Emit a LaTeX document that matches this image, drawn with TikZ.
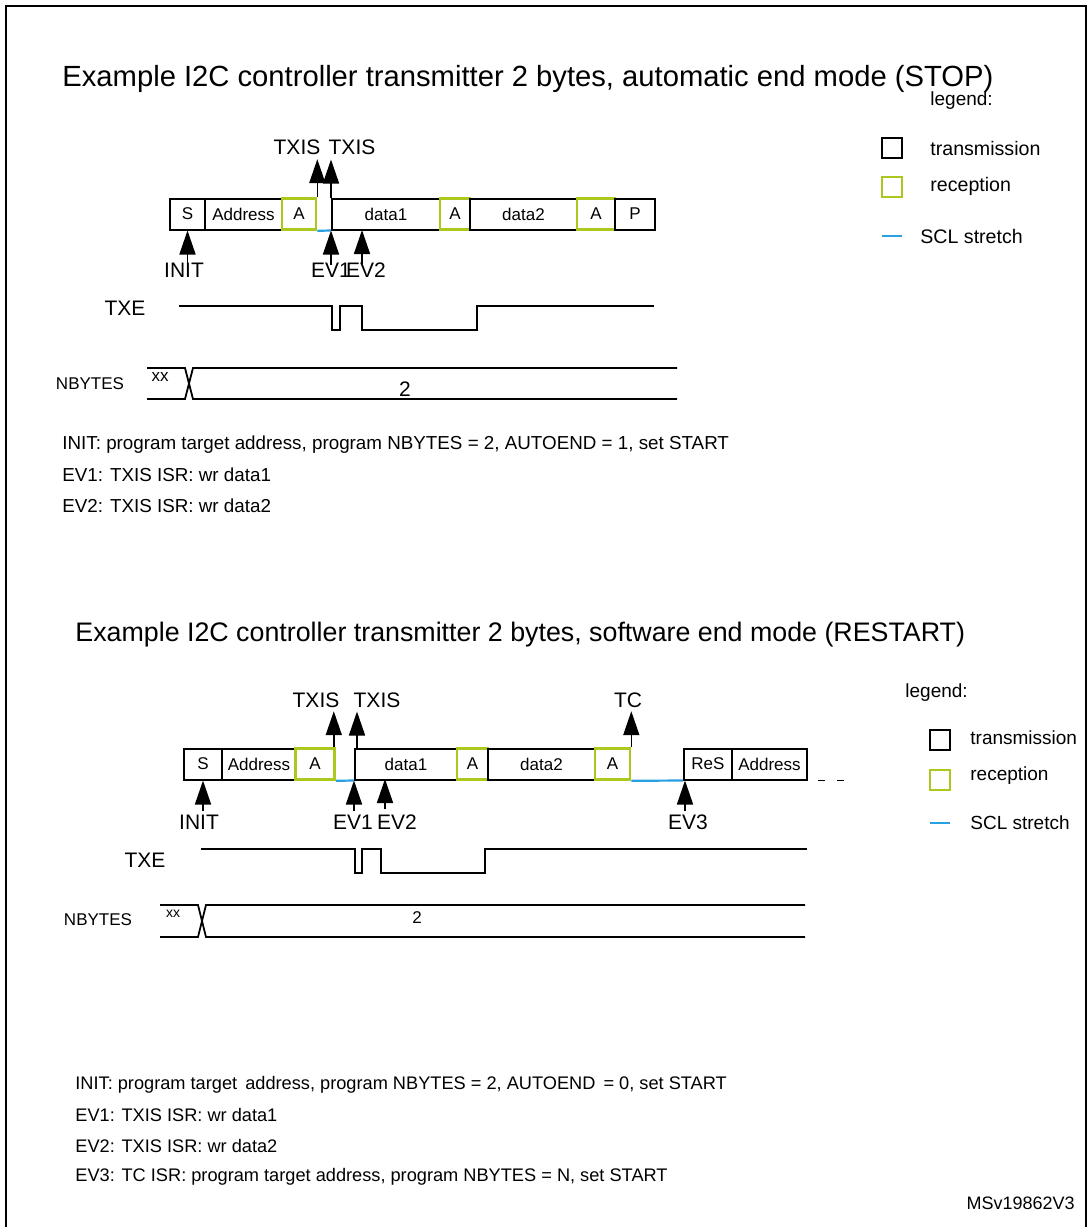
\documentclass[tikz,border=0pt]{standalone}
\usepackage{fontspec}
\setmainfont{Liberation Sans}
\usetikzlibrary{arrows.meta}
\usetikzlibrary{positioning}
\definecolor{rxgreen}{RGB}{170,200,30}
\definecolor{sclblue}{RGB}{40,160,225}
\tikzset{
    field/.style = {rectangle, draw=black, line width=1pt, minimum height=15.5pt, inner sep=0pt, font=\fontsize{8.5}{9}\selectfont},
    rxfield/.style = {field, draw=rxgreen, line width=1.3pt},
    flag/.style = {font=\fontsize{10.5}{11}\selectfont, inner sep=1pt},
    evarrow/.style = {-{Triangle[length=12pt,width=8pt]}, line width=0.8pt},
    wave/.style = {line width=0.9pt},
    stretch/.style = {sclblue, line width=1.1pt},
    note/.style = {font=\fontsize{9.1}{10}\selectfont, anchor=west, inner sep=0pt},
    legtext/.style = {font=\fontsize{9.5}{10}\selectfont, anchor=west, inner sep=0pt},
    legbox/.style = {rectangle, draw=black, line width=0.9pt, minimum size=10pt, inner sep=0pt},
}
\begin{document}
\begin{tikzpicture}[x=0.5pt,y=-0.5pt]
\useasboundingbox (0,0) rectangle (1089,1227);
\draw[line width=1pt] (1086,1240) -- (1086,6) -- (6,6) -- (6,1240);
%
% first example
\node[anchor=west, font=\fontsize{14.6}{16}\selectfont, inner sep=0pt] (title1) at (62,79) {Example I2C controller transmitter 2 bytes, automatic end mode (STOP)};
\node[field, minimum width=17.5pt] (s1) at (187.5,214) {S};
\node[field, minimum width=38.5pt] (ad1) at (243.5,214) {Address};
\node[rxfield, minimum width=17pt] (a11) at (299,214) {A};
\node[field, minimum width=54pt] (d11) at (386,214) {data1};
\node[rxfield, minimum width=15pt] (a12) at (455,214) {A};
\node[field, minimum width=53.5pt] (d12) at (523.5,214) {data2};
\node[rxfield, minimum width=19pt] (a13) at (596,214) {A};
\node[field, minimum width=20pt] (p1) at (635,214) {P};
\draw[stretch] (a11.south east) -- (d11.south west);
%
\node[flag] (txisa1) at (297,147) {TXIS};
\node[flag] (txisb1) at (352,147) {TXIS};
\draw[evarrow] (a11.north east) -- ++(0,-38);
\draw[evarrow] (d11.north west) -- ++(0,-38);
\node[flag] (init1) at (184,270) {INIT};
\node[flag] (ev11) at (331,270) {EV1};
\node[flag] (ev21) at (366,270) {EV2};
\draw[evarrow] (s1.south) ++(0,34) -- (s1.south);
\draw[evarrow] (d11.south west) ++(0,34) -- (d11.south west);
\draw[evarrow] (362,264) -- (362,230);
%
\node[flag] (txe1) at (125,308) {TXE};
\draw[wave] (179,306) -- (332,306) -- (332,330) -- (340,330) -- (340,306) -- (362,306)
    -- (362,330) -- (477,330) -- (477,306) -- (654,306);
\node[font=\fontsize{8.5}{9}\selectfont] (nb1) at (90,384) {NBYTES};
\draw[wave] (147,368) -- (185,368) -- (193,399) -- (677,399);
\draw[wave] (147,399) -- (185,399) -- (193,368) -- (677,368);
\node[font=\fontsize{8.5}{9}\selectfont] (xx1) at (160,377) {xx};
\node[font=\fontsize{10.5}{11}\selectfont] (two1) at (405,389) {2};
%
\node[note, font=\fontsize{9.4}{10}\selectfont] (n11) at (62,445) {INIT: program target address, program NBYTES = 2, AUTOEND = 1, set START};
\node[note, font=\fontsize{9.4}{10}\selectfont] (n12) at (62,475) {EV1: TXIS ISR: wr data1};
\node[note, font=\fontsize{9.4}{10}\selectfont] (n13) at (62,506) {EV2: TXIS ISR: wr data2};
%
\node[legtext] (leg1) at (930,101) {legend:};
\node[legbox] (lt1) at (892,148) {};
\node[legbox, draw=rxgreen, line width=1.3pt] (lr1) at (892,187) {};
\node[legtext, font=\fontsize{9.8}{10}\selectfont] at (930,148) {transmission};
\node[legtext, font=\fontsize{9.8}{10}\selectfont] at (930,186) {reception};
\coordinate (ls1) at (882,236);
\draw[stretch] (ls1) -- ++(20,0);
\node[legtext, font=\fontsize{9.8}{10}\selectfont] at (920,236) {SCL stretch};
%
% second example
\node[anchor=west, font=\fontsize{13.4}{16}\selectfont, inner sep=0pt] (title2) at (75,635) {Example I2C controller transmitter 2 bytes, software end mode (RESTART)};
\node[field, minimum width=19pt] (s2) at (203,764) {S};
\node[field, minimum width=37pt] (ad2) at (259,764) {Address};
\node[rxfield, minimum width=19.5pt] (a21) at (315,764) {A};
\node[field, minimum width=51pt] (d21) at (406,764) {data1};
\node[rxfield, minimum width=15.5pt] (a22) at (472.5,764) {A};
\node[field, minimum width=53.5pt] (d22) at (541.5,764) {data2};
\node[rxfield, minimum width=17.5pt] (a23) at (612.5,764) {A};
\node[field, minimum width=24pt] (res2) at (708,764) {ReS};
\node[field, minimum width=37.5pt] (ad22) at (769.5,764) {Address};
\draw[stretch] (a21.south east) -- (d21.south west);
\draw[stretch] (a23.south east) -- (res2.south west);
\draw[wave, dash pattern=on 3.5pt off 6pt] (ad22.south east) ++(10,0) -- ++(32,0);
%
\node[flag] (txisa2) at (316,700) {TXIS};
\node[flag] (txisb2) at (377,700) {TXIS};
\node[flag] (tc2) at (628,700) {TC};
\draw[evarrow] (a21.north east) ++(-2,0) -- ++(0,-36);
\draw[evarrow] (d21.north west) ++(3,0) -- ++(0,-36);
\draw[evarrow] (a23.north east) -- ++(0,-36);
\node[flag] (init2) at (199,822) {INIT};
\node[flag] (ev12) at (353,822) {EV1};
\node[flag] (ev22) at (397,822) {EV2};
\node[flag] (ev32) at (688,822) {EV3};
\draw[evarrow] (s2.south) ++(0,30) -- (s2.south);
\draw[evarrow] (d21.south west) ++(0,30) -- (d21.south west);
\draw[evarrow] (385,809) -- (385,779);
\draw[evarrow] (res2.south west) ++(2,30) -- ++(0,-30);
%
\node[flag] (txe2) at (145,860) {TXE};
\draw[wave] (201,849) -- (355,849) -- (355,873) -- (362,873) -- (362,849) -- (381,849)
    -- (381,873) -- (485,873) -- (485,849) -- (807,849);
\node[font=\fontsize{8.5}{9}\selectfont] (nb2) at (98,920) {NBYTES};
\draw[wave] (160,905) -- (198,905) -- (206,937) -- (805,937);
\draw[wave] (160,937) -- (198,937) -- (206,905) -- (805,905);
\node[font=\fontsize{7}{8}\selectfont] (xx2) at (173,914) {xx};
\node[font=\fontsize{8.5}{9}\selectfont] (two2) at (417,918) {2};
%
\node[note] (n21) at (75,1085) {INIT: program target\, address, program NBYTES = 2, AUTOEND\, = 0, set START};
\node[note] (n22) at (75,1115) {EV1: TXIS ISR: wr data1};
\node[note] (n23) at (75,1146) {EV2: TXIS ISR: wr data2};
\node[note] (n24) at (75,1177) {EV3: TC ISR: program target address, program NBYTES = N, set START};
%
\node[legtext] (leg2) at (905,693) {legend:};
\node[legbox] (lt2) at (940,740) {};
\node[legbox, draw=rxgreen, line width=1.3pt] (lr2) at (940,780) {};
\node[legtext] at (970,738) {transmission};
\node[legtext] at (970,776) {reception};
\coordinate (ls2) at (930,823);
\draw[stretch] (ls2) -- ++(20,0);
\node[legtext] at (970,823) {SCL stretch};
%
\node[anchor=east, font=\fontsize{9}{10}\selectfont, inner sep=0pt] (ref) at (1075,1203) {MSv19862V3};
\end{tikzpicture}
\end{document}
